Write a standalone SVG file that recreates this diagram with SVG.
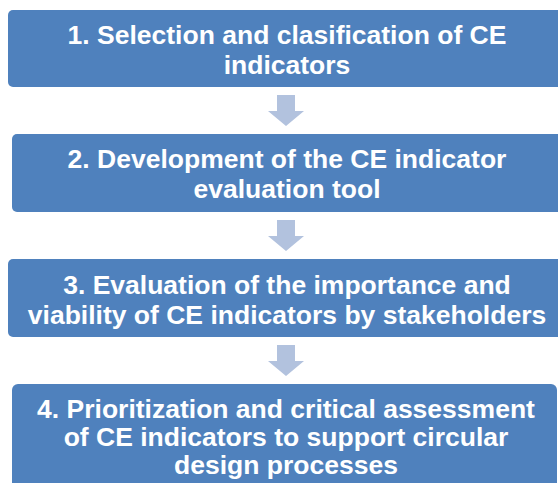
<svg xmlns="http://www.w3.org/2000/svg" width="558" height="483" viewBox="0 0 558 483">
  <style>
    .box { fill: #4F81BD; }
    .lbl { fill: #FFFFFF; font-family: "Liberation Sans", Arial, sans-serif; font-weight: bold; font-size: 26.5px; text-anchor: middle; }
    .arrow { fill: #B2C2DE; }
  </style>

  <g id="step1">
    <rect class="box" x="8" y="10" width="562" height="77" rx="5"/>
    <text class="lbl" x="287" y="44">1. Selection and clasification of CE</text>
    <text class="lbl" x="287" y="74">indicators</text>
  </g>

  <g id="step2">
    <rect class="box" x="12" y="134" width="558" height="78" rx="5"/>
    <text class="lbl" x="287" y="168">2. Development of the CE indicator</text>
    <text class="lbl" x="287" y="198">evaluation tool</text>
  </g>

  <g id="step3">
    <rect class="box" x="8" y="259" width="562" height="78" rx="5"/>
    <text class="lbl" x="287" y="294">3. Evaluation of the importance and</text>
    <text class="lbl" x="287" y="324">viability of CE indicators by stakeholders</text>
  </g>

  <g id="step4">
    <rect class="box" x="12" y="384" width="545" height="110" rx="6"/>
    <text class="lbl" x="286" y="418">4. Prioritization and critical assessment</text>
    <text class="lbl" x="286" y="446">of CE indicators to support circular</text>
    <text class="lbl" x="286" y="474">design processes</text>
  </g>

  <g id="connectors">
    <path class="arrow" d="M277 95 H295 V111 H304 L286 126 L268 111 H277 Z"/>
    <path class="arrow" d="M277 220 H295 V236 H304 L286 251 L268 236 H277 Z"/>
    <path class="arrow" d="M277 345 H295 V361 H304 L286 376 L268 361 H277 Z"/>
  </g>
</svg>
